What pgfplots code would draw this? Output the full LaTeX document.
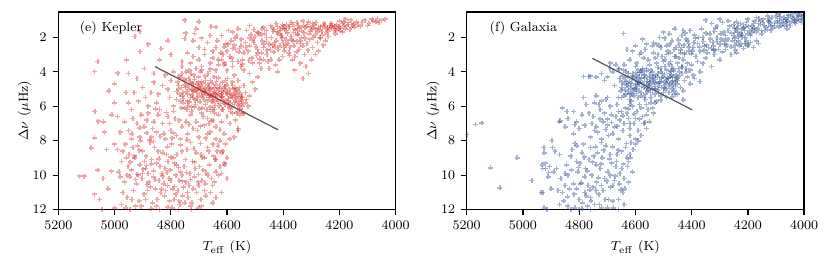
\documentclass[border=0pt]{standalone}
\usepackage{pgfplots}
\pgfplotsset{compat=1.18}
\definecolor{kred}{RGB}{214,45,40}
\definecolor{gblue}{RGB}{40,75,145}
\pgfplotsset{
  panel/.style={
    scale only axis, width=204.9pt, height=120pt,
    anchor=south west,
    xmin=4000, xmax=5200, ymin=0.53, ymax=12,
    x dir=reverse, y dir=reverse,
    xtick={4000,4200,4400,4600,4800,5000,5200},
    ytick={2,4,6,8,10,12},
    xticklabel style={/pgf/number format/1000 sep={}},
    tick align=outside, xtick pos=bottom, ytick pos=left,
    major tick length=3.5pt,
    tick style={black, line width=0.8pt},
    axis line style={line width=0.9pt},
    ticklabel style={font=\footnotesize},
    label style={font=\footnotesize},
    xlabel={$T_{\rm eff}$ (K)},
    ylabel={$\Delta\nu$ ($\mu$Hz)},
    xlabel style={yshift=0pt},
    ylabel style={yshift=-6pt},
  },
  pts/.style={only marks, mark=+, mark size=1.5pt, mark options={line width=0.95pt}, opacity=0.42},
}
\begin{document}
\begin{tikzpicture}
\useasboundingbox (0,0) rectangle (504pt,160.9pt);
\begin{axis}[panel, at={(35.4pt,33.6pt)}]
\addplot[pts, kred] table[row sep=\\]{
x y\\
4440 1.45\\ 4425 1.2\\ 4410 1.6\\ 4398 1.35\\ 4385 1.75\\ 4372 1.15\\ 4360 1.5\\ 4348 1.3\\ 4335 1.62\\ 4322 1.42\\ 4310 1.1\\ 4300 1.55\\ 4290 1.28\\ 4280 1.7\\ 4268 1.38\\ 4255 1.18\\ 4245 1.5\\ 4233 1.32\\ 4222 1.6\\ 4210 1.25\\ 4198 1.45\\ 4186 1.12\\ 4175 1.35\\ 4163 1.55\\ 4150 1.22\\ 4420 1.38\\ 4395 1.52\\ 4366 1.25\\ 4342 1.48\\ 4318 1.36\\ 4296 1.2\\ 4274 1.45\\ 4251 1.3\\ 4229 1.4\\ 4206 1.5\\ 4184 1.3\\ 4405 1.9\\ 4350 1.85\\ 4260 1.85\\ 4230 1.2\\ 4330 1.05\\ 4380 1.42\\ 4302 1.4\\ 4240 1.65\\ 4215 1.35\\
4445 1.3\\ 4432 1.55\\ 4418 1.8\\ 4403 1.25\\ 4390 1.6\\ 4377 1.38\\ 4363 1.72\\ 4352 1.15\\ 4339 1.4\\ 4326 1.75\\ 4314 1.25\\ 4303 1.62\\ 4292 1.45\\ 4283 1.15\\ 4271 1.58\\ 4259 1.35\\ 4248 1.72\\ 4236 1.5\\ 4226 1.3\\ 4212 1.6\\ 4201 1.38\\ 4190 1.2\\ 4178 1.5\\ 4168 1.25\\ 4158 1.42\\ 4436 1.65\\ 4412 1.48\\ 4388 1.28\\ 4356 1.6\\ 4328 1.3\\ 4306 1.8\\ 4286 1.52\\ 4263 1.65\\ 4242 1.42\\ 4218 1.45\\ 4196 1.62\\ 4172 1.15\\ 4152 1.32\\ 4460 1.6\\ 4475 1.5\\ 4490 1.7\\ 4505 1.55\\ 4480 1.85\\
4140 1.1\\ 4125 1.35\\ 4110 1.0\\ 4095 1.2\\ 4080 1.05\\ 4065 0.9\\ 4050 1.0\\ 4038 0.95\\ 4120 1.15\\ 4100 1.3\\ 4085 0.95\\ 4070 1.1\\ 4135 1.25\\ 4160 1.0\\ 4180 0.95\\ 4200 1.05\\ 4145 1.4\\ 4060 1.15\\ 4215 1.8\\ 4190 1.7\\ 4270 2.0\\ 4240 1.95\\
4620 1.9\\ 4605 2.4\\ 4590 3.1\\ 4580 1.7\\ 4570 2.7\\ 4560 3.4\\ 4550 2.1\\ 4540 2.9\\ 4530 1.6\\ 4520 2.5\\ 4512 3.2\\ 4500 1.95\\ 4492 2.7\\ 4485 3.5\\ 4475 2.2\\ 4466 1.8\\ 4458 3.0\\ 4450 2.4\\ 4442 2.0\\ 4433 2.85\\ 4425 2.2\\ 4415 3.3\\ 4408 1.9\\ 4398 2.6\\ 4390 2.15\\ 4380 2.9\\ 4372 1.95\\ 4362 2.5\\ 4352 2.25\\ 4343 2.7\\ 4335 2.0\\ 4325 3.0\\ 4316 2.35\\ 4306 2.1\\ 4296 2.6\\ 4287 1.9\\ 4278 2.3\\ 4268 2.05\\ 4258 2.45\\ 4250 2.2\\ 4600 2.8\\ 4585 2.2\\ 4565 1.9\\ 4545 3.3\\ 4525 2.8\\ 4505 2.3\\ 4488 1.75\\ 4470 2.6\\ 4455 3.4\\ 4437 2.45\\ 4420 1.7\\ 4402 3.1\\ 4384 2.35\\ 4367 3.3\\ 4348 1.8\\ 4330 2.5\\ 4312 2.75\\ 4294 2.0\\ 4275 2.8\\ 4640 2.6\\ 4632 3.3\\ 4615 3.0\\ 4595 1.6\\ 4575 2.45\\ 4555 2.65\\ 4535 2.3\\ 4515 1.85\\ 4495 3.05\\ 4478 2.9\\ 4460 2.0\\ 4445 2.7\\ 4428 3.6\\ 4412 2.5\\ 4395 2.8\\ 4376 2.6\\ 4358 3.1\\ 4340 3.5\\ 4320 3.7\\ 4300 3.3\\ 4310 4.1\\ 4330 4.4\\ 4360 3.9\\ 4285 3.0\\ 4350 1.55\\ 4400 1.45\\ 4470 1.4\\ 4520 1.3\\ 4560 1.5\\ 4640 1.4\\ 4700 1.1\\ 4710 1.5\\ 4690 2.05\\ 4670 2.3\\ 4660 1.9\\ 4650 2.8\\ 4680 2.7\\ 4720 2.2\\ 4740 2.9\\ 4760 3.4\\
4635 2.2\\ 4622 2.9\\ 4608 3.5\\ 4596 2.4\\ 4583 3.2\\ 4571 2.05\\ 4558 2.85\\ 4546 3.55\\ 4533 2.6\\ 4521 3.35\\ 4508 2.15\\ 4497 2.55\\ 4483 3.25\\ 4469 2.4\\ 4457 2.75\\ 4444 3.3\\ 4431 2.3\\ 4418 2.7\\ 4404 2.05\\ 4391 2.45\\ 4377 3.05\\ 4365 2.2\\ 4352 2.85\\ 4338 2.35\\ 4323 2.05\\ 4610 2.55\\ 4580 2.65\\ 4550 2.5\\ 4520 2.05\\ 4490 2.9\\ 4460 2.25\\ 4430 2.55\\ 4400 2.3\\ 4370 2.15\\ 4340 2.2\\ 4680 3.0\\ 4660 3.5\\ 4700 2.6\\ 4690 3.9\\ 4720 3.1\\ 4640 3.9\\ 4610 3.6\\ 4580 3.7\\ 4540 3.9\\ 4510 3.5\\ 4470 3.3\\ 4450 3.8\\ 4420 4.0\\
4928 1.96\\ 4910 1.67\\ 4910 2.83\\ 4834 2.64\\ 5059 3.4\\ 5071 3.99\\ 4958 3.3\\ 4988 4.08\\ 4893 3.8\\ 4750 2.06\\ 4746 1.75\\ 4715 1.77\\ 4657 1.38\\ 4750 1.0\\ 4880 2.4\\ 4810 2.2\\ 4950 4.1\\ 5000 4.7\\ 4920 4.4\\ 4860 4.1\\ 4840 3.3\\ 4800 3.0\\
4775 4.6\\ 4768 5.3\\ 4760 4.1\\ 4754 5.8\\ 4748 4.9\\ 4742 6.2\\ 4736 4.4\\ 4730 5.5\\ 4724 5.0\\ 4718 4.2\\ 4712 5.9\\ 4706 4.7\\ 4700 5.4\\ 4694 4.0\\ 4688 6.1\\ 4682 5.1\\ 4676 4.5\\ 4670 5.7\\ 4664 4.85\\ 4658 6.3\\ 4652 5.25\\ 4646 4.3\\ 4640 5.6\\ 4634 4.95\\ 4628 6.0\\ 4622 5.35\\ 4616 4.6\\ 4610 5.8\\ 4604 5.1\\ 4598 4.4\\ 4592 6.1\\ 4586 5.45\\ 4580 4.8\\ 4574 5.9\\ 4568 5.2\\ 4562 6.3\\ 4556 4.9\\ 4550 5.6\\ 4545 6.0\\
4772 5.0\\ 4765 4.35\\ 4757 5.55\\ 4750 4.75\\ 4744 5.15\\ 4738 5.95\\ 4731 4.55\\ 4725 5.35\\ 4719 4.85\\ 4713 5.65\\ 4707 5.2\\ 4701 4.3\\ 4695 5.0\\ 4689 5.45\\ 4683 4.65\\ 4677 5.9\\ 4671 5.05\\ 4665 5.5\\ 4659 4.5\\ 4653 5.75\\ 4647 5.15\\ 4641 4.75\\ 4635 5.4\\ 4629 5.0\\ 4623 5.85\\ 4617 5.45\\ 4611 4.95\\ 4605 5.65\\ 4599 5.3\\ 4593 5.0\\ 4587 5.8\\ 4581 5.5\\ 4575 5.25\\ 4569 5.65\\ 4563 5.4\\ 4557 5.85\\ 4551 5.3\\ 4547 5.7\\
4770 4.25\\ 4762 4.9\\ 4756 5.2\\ 4746 4.5\\ 4740 5.7\\ 4733 5.05\\ 4727 4.65\\ 4721 5.5\\ 4715 4.45\\ 4709 5.05\\ 4703 4.9\\ 4697 5.75\\ 4691 4.55\\ 4685 5.3\\ 4679 4.95\\ 4673 5.35\\ 4667 4.1\\ 4661 5.35\\ 4655 4.95\\ 4649 5.45\\ 4643 5.95\\ 4637 4.55\\ 4631 5.25\\ 4625 4.8\\ 4619 5.6\\ 4613 5.2\\ 4607 5.9\\ 4601 4.75\\ 4595 5.55\\ 4589 5.2\\ 4583 6.05\\ 4577 5.0\\ 4571 5.45\\ 4565 5.0\\ 4559 5.55\\ 4553 6.15\\ 4548 5.45\\
4778 5.15\\ 4766 5.7\\ 4752 4.45\\ 4739 4.85\\ 4726 6.05\\ 4714 5.1\\ 4702 4.6\\ 4690 5.2\\ 4678 4.25\\ 4666 5.2\\ 4654 4.65\\ 4642 5.3\\ 4630 4.35\\ 4618 5.1\\ 4606 4.5\\ 4594 5.7\\ 4582 4.6\\ 4570 5.75\\ 4558 5.15\\ 4546 5.5\\ 4773 4.8\\ 4759 5.4\\ 4745 4.0\\ 4733 5.75\\ 4720 4.7\\ 4707 5.55\\ 4695 4.75\\ 4681 5.6\\ 4668 4.75\\ 4656 5.4\\ 4644 4.9\\ 4632 5.7\\ 4620 5.25\\ 4608 4.85\\ 4596 5.9\\ 4584 5.35\\ 4572 4.95\\ 4561 5.95\\ 4549 5.9\\ 4763 6.1\\ 4728 4.1\\ 4699 6.15\\ 4672 6.2\\ 4645 6.2\\ 4617 6.2\\ 4588 6.3\\ 4566 6.4\\ 4555 6.2\\ 4535 5.8\\ 4700 4.95\\ 4680 5.15\\ 4660 5.0\\ 4640 5.2\\ 4620 5.45\\ 4600 5.25\\ 4720 5.15\\ 4740 5.3\\ 4690 4.85\\ 4650 5.65\\
4780 5.6\\ 4735 3.9\\ 4710 3.8\\ 4690 3.7\\ 4660 3.85\\ 4630 3.6\\ 4600 3.9\\ 4575 4.2\\ 4560 4.5\\ 4540 4.8\\ 4535 5.2\\ 4530 5.6\\ 4525 6.0\\ 4540 6.4\\ 4520 5.4\\ 4510 4.6\\ 4500 5.0\\ 4490 4.3\\ 4480 3.8\\ 4520 4.1\\ 4550 3.7\\ 4580 3.4\\ 4620 3.3\\ 4650 3.2\\ 4700 3.3\\ 4730 3.5\\ 4760 3.7\\ 4790 4.0\\ 4800 4.5\\ 4810 5.0\\ 4805 5.5\\ 4790 6.0\\ 4820 4.2\\ 4830 4.8\\ 4845 5.3\\ 4850 5.8\\ 4860 4.6\\ 4870 5.2\\ 4880 6.0\\ 4890 5.5\\ 4900 4.9\\ 4915 5.7\\ 4930 5.2\\ 4950 5.8\\ 4960 5.2\\ 4940 6.2\\
4600 6.6\\ 4590 7.0\\ 4580 6.4\\ 4570 6.8\\ 4560 7.3\\ 4575 7.8\\ 4555 6.5\\ 4620 6.9\\ 4640 7.2\\ 4610 7.6\\ 4630 6.5\\ 4650 6.8\\ 4545 6.4\\ 4590 7.9\\ 4605 8.2\\ 4625 8.0\\ 4615 8.6\\ 4600 9.0\\ 4610 9.3\\ 4640 9.1\\ 4560 7.4\\
4895 7.2\\ 4880 6.4\\ 4870 7.8\\ 4860 6.9\\ 4850 7.5\\ 4840 6.2\\ 4830 7.0\\ 4820 7.9\\ 4810 6.6\\ 4800 7.4\\ 4790 6.3\\ 4780 7.7\\ 4770 6.8\\ 4760 7.2\\ 4750 6.1\\ 4740 7.6\\ 4730 6.5\\ 4720 7.3\\ 4710 6.9\\ 4700 7.8\\ 4690 6.4\\ 4680 7.1\\ 4670 6.7\\ 4660 7.5\\ 4650 6.2\\ 4640 7.9\\ 4885 6.8\\ 4865 7.3\\ 4845 6.5\\ 4825 7.6\\ 4805 7.0\\ 4785 6.7\\ 4765 7.9\\ 4745 6.9\\ 4725 6.3\\ 4705 7.4\\ 4685 6.6\\ 4665 7.0\\ 4645 6.4\\ 4905 6.5\\ 4920 7.0\\ 4935 6.7\\ 4950 7.4\\ 4965 6.9\\ 4980 7.5\\ 4990 6.6\\ 4910 7.8\\ 4940 7.9\\ 4875 7.95\\ 4855 6.15\\ 4815 6.35\\ 4795 7.85\\ 4735 7.05\\ 4715 6.05\\ 4695 7.15\\ 4675 7.85\\ 4655 6.85\\ 4625 7.35\\ 4615 6.2\\ 4660 6.05\\
4990 8.5\\ 4975 9.2\\ 4965 10.4\\ 4955 11.3\\ 4948 8.8\\ 4940 9.7\\ 4932 10.9\\ 4925 11.8\\ 4918 8.3\\ 4910 9.4\\ 4902 10.2\\ 4895 11.1\\ 4888 8.9\\ 4880 9.9\\ 4872 10.7\\ 4865 11.6\\ 4858 8.4\\ 4850 9.3\\ 4842 10.3\\ 4835 11.0\\ 4828 8.7\\ 4820 9.6\\ 4812 10.6\\ 4805 11.5\\ 4798 8.2\\ 4790 9.0\\ 4782 10.0\\ 4775 10.9\\ 4768 11.7\\ 4760 8.6\\ 4752 9.5\\ 4745 10.4\\ 4738 11.3\\ 4730 8.1\\ 4722 9.2\\ 4715 10.1\\ 4708 11.0\\ 4700 11.9\\ 4692 8.8\\ 4685 9.7\\ 4678 10.5\\ 4670 8.4\\ 4662 9.4\\ 4655 10.2\\ 4648 8.9\\ 4640 9.8\\ 4632 8.3\\ 4625 9.5\\
4985 9.8\\ 4970 11.0\\ 4958 9.0\\ 4945 10.1\\ 4935 8.4\\ 4922 10.5\\ 4912 11.5\\ 4900 8.6\\ 4890 9.6\\ 4878 10.4\\ 4868 9.1\\ 4855 10.8\\ 4845 8.6\\ 4832 9.9\\ 4822 11.2\\ 4810 9.2\\ 4800 10.3\\ 4788 11.4\\ 4778 8.8\\ 4765 9.8\\ 4755 10.7\\ 4742 8.5\\ 4732 9.9\\ 4720 10.8\\ 4710 8.7\\ 4698 9.5\\ 4688 10.3\\ 4675 11.2\\ 4665 8.6\\ 4652 10.6\\ 4642 9.1\\ 4630 10.0\\ 4618 8.7\\ 4608 9.4\\
4962 8.2\\ 4952 9.5\\ 4938 11.4\\ 4928 9.0\\ 4915 10.0\\ 4905 11.8\\ 4893 9.2\\ 4883 10.9\\ 4873 8.1\\ 4862 10.1\\ 4848 11.4\\ 4838 9.5\\ 4825 10.5\\ 4815 8.8\\ 4802 9.7\\ 4793 10.8\\ 4780 9.4\\ 4770 10.3\\ 4758 11.2\\ 4748 9.1\\ 4735 10.6\\ 4725 11.6\\ 4713 9.6\\ 4703 10.4\\ 4693 11.4\\ 4680 9.0\\ 4668 10.0\\ 4658 11.0\\ 4645 10.4\\ 4635 8.6\\ 4620 9.9\\
4944 9.25\\ 4926 10.25\\ 4912 8.55\\ 4898 9.65\\ 4884 10.55\\ 4870 9.35\\ 4856 10.25\\ 4842 9.05\\ 4828 10.05\\ 4814 9.85\\ 4800 8.95\\ 4786 10.65\\ 4772 9.55\\ 4758 10.35\\ 4744 9.85\\ 4730 10.25\\ 4716 9.25\\ 4702 9.95\\ 4688 8.95\\ 4674 9.85\\ 4938 7.6\\ 4910 7.25\\ 4885 7.55\\ 4862 8.05\\ 4838 7.75\\ 4812 8.35\\ 4790 7.55\\ 4766 8.25\\ 4742 7.95\\ 4718 8.45\\ 4694 8.15\\ 4670 7.6\\ 4650 8.2\\ 4862 9.75\\ 4833 10.8\\ 4806 10.2\\ 4782 11.1\\ 4760 10.0\\ 4740 11.0\\ 4890 11.4\\ 4850 11.8\\ 4810 11.85\\ 4770 11.5\\ 4730 11.8\\ 4700 10.6\\ 4680 10.9\\ 4920 9.95\\ 4955 10.0\\ 4970 8.6\\
4980 10.1\\ 4960 11.9\\ 4945 12.0\\ 4908 8.0\\ 4887 9.45\\ 4870 11.95\\ 4840 12.0\\ 4818 10.9\\ 4795 11.9\\ 4786 9.3\\ 4772 12.0\\ 4750 11.6\\ 4727 12.0\\ 4690 11.8\\ 4640 11.3\\ 4650 11.6\\ 4600 10.2\\ 4620 11.0\\ 4930 8.9\\ 4900 9.9\\
5058 6.87\\ 5071 7.84\\ 5083 8.42\\ 5124 10.06\\ 5108 10.06\\ 5059 9.7\\ 5071 11.1\\ 5053 11.4\\ 5000 8.2\\ 5029 8.5\\ 5011 9.77\\ 5041 10.2\\ 5023 10.8\\ 5040 6.9\\ 5035 7.5\\ 5070 6.3\\ 5010 6.5\\ 5000 5.8\\ 5020 5.1\\ 5045 12.0\\ 5000 11.9\\ 4975 11.7\\
};
\addplot[black!65, line width=0.75pt] coordinates {(4856,3.70) (4418,7.37)};
\node[anchor=west, font=\footnotesize] at (rel axis cs:0.0465,0.919) {(e) Kepler};
\end{axis}
\begin{axis}[panel, at={(283.4pt,33.6pt)}]
\addplot[pts, gblue] table[row sep=\\]{
x y\\
4245 1.6\\ 4235 1.3\\ 4225 1.75\\ 4215 1.45\\ 4205 1.15\\ 4195 1.6\\ 4185 1.35\\ 4175 1.05\\ 4165 1.5\\ 4155 1.25\\ 4145 0.95\\ 4135 1.4\\ 4125 1.15\\ 4115 0.85\\ 4105 1.3\\ 4095 1.05\\ 4085 0.8\\ 4075 1.2\\ 4065 0.95\\ 4055 0.7\\ 4045 1.1\\ 4035 0.85\\ 4025 0.65\\ 4015 1.0\\ 4008 0.8\\ 4240 1.1\\ 4220 1.5\\ 4200 1.8\\ 4180 1.2\\ 4160 0.9\\ 4140 1.6\\ 4120 1.35\\ 4100 0.75\\ 4080 1.0\\ 4060 1.25\\ 4040 0.9\\ 4020 0.75\\ 4010 1.15\\ 4230 1.9\\ 4210 2.0\\ 4190 1.9\\ 4170 1.7\\ 4150 1.8\\ 4130 1.55\\ 4110 1.45\\ 4090 1.4\\ 4070 1.35\\ 4050 1.3\\ 4030 1.2\\ 4250 1.25\\ 4270 1.05\\ 4290 1.15\\ 4310 1.35\\ 4330 1.2\\ 4350 1.0\\ 4300 0.95\\ 4060 1.5\\ 4090 0.65\\ 4040 0.6\\ 4130 0.75\\ 4170 0.85\\ 4200 0.95\\ 4215 1.25\\ 4185 1.55\\ 4155 1.05\\ 4125 0.95\\ 4095 1.2\\ 4065 1.1\\ 4035 1.0\\
4248 1.45\\ 4237 1.7\\ 4226 1.2\\ 4212 1.6\\ 4198 1.35\\ 4188 1.75\\ 4176 1.45\\ 4162 1.2\\ 4152 1.6\\ 4142 1.3\\ 4128 1.05\\ 4118 1.6\\ 4106 1.15\\ 4094 0.9\\ 4082 1.3\\ 4072 0.85\\ 4058 1.05\\ 4046 0.8\\ 4034 1.15\\ 4022 0.9\\ 4012 0.7\\ 4238 1.5\\ 4208 1.4\\ 4178 1.6\\ 4148 1.15\\ 4118 1.2\\ 4088 1.15\\ 4058 0.85\\ 4028 1.05\\ 4005 0.95\\
4323 2.73\\ 4211 2.35\\ 4163 2.35\\ 4371 4.57\\ 4430 5.63\\
4445 2.4\\ 4435 1.9\\ 4425 2.9\\ 4415 2.2\\ 4405 1.6\\ 4395 2.6\\ 4385 3.1\\ 4375 2.0\\ 4365 1.5\\ 4355 2.5\\ 4345 2.9\\ 4335 1.8\\ 4325 2.3\\ 4315 1.45\\ 4305 2.7\\ 4295 2.1\\ 4285 1.7\\ 4275 2.45\\ 4265 1.35\\ 4255 2.2\\ 4245 2.75\\ 4235 1.95\\ 4225 2.4\\ 4215 2.65\\ 4205 2.2\\ 4440 2.75\\ 4420 2.1\\ 4400 2.95\\ 4380 2.35\\ 4360 2.0\\ 4340 2.6\\ 4320 1.65\\ 4300 2.4\\ 4280 1.9\\ 4260 2.55\\ 4240 2.3\\ 4220 2.0\\ 4430 1.6\\ 4410 2.55\\ 4390 1.85\\ 4370 2.8\\ 4350 1.75\\ 4330 2.65\\ 4310 2.0\\ 4290 2.85\\ 4270 1.6\\ 4250 1.9\\ 4230 2.5\\ 4460 1.5\\ 4480 1.8\\ 4500 1.7\\ 4470 2.2\\ 4490 2.5\\ 4455 3.1\\ 4475 2.9\\ 4350 3.2\\ 4320 3.0\\ 4300 3.3\\ 4280 2.7\\ 4260 3.0\\ 4240 2.9\\ 4200 2.5\\ 4190 2.3\\ 4180 2.6\\ 4170 2.2\\ 4360 3.5\\ 4330 3.7\\ 4380 3.4\\ 4200 2.4\\ 4400 3.6\\ 4370 4.0\\ 4390 4.4\\ 4643 1.77\\
4448 2.15\\ 4436 2.6\\ 4423 1.75\\ 4411 2.35\\ 4398 2.8\\ 4386 2.05\\ 4372 2.55\\ 4359 2.25\\ 4347 2.45\\ 4334 2.1\\ 4322 2.5\\ 4309 2.25\\ 4296 1.8\\ 4284 2.2\\ 4271 2.1\\ 4258 1.75\\ 4246 2.05\\ 4233 2.2\\ 4221 1.85\\ 4428 2.45\\ 4392 2.3\\ 4356 2.75\\ 4318 2.75\\ 4282 2.4\\ 4245 2.45\\ 4462 2.7\\ 4478 2.4\\ 4495 2.05\\ 4510 2.6\\ 4525 2.4\\ 4495 3.3\\
4595 3.5\\ 4585 3.0\\ 4575 3.8\\ 4565 2.7\\ 4555 3.3\\ 4545 3.9\\ 4535 2.9\\ 4525 3.5\\ 4515 2.5\\ 4505 3.1\\ 4495 3.7\\ 4485 2.8\\ 4475 3.4\\ 4465 3.95\\ 4455 2.6\\ 4445 3.2\\ 4435 3.75\\ 4425 3.0\\ 4415 3.5\\ 4405 3.9\\ 4590 3.9\\ 4570 3.2\\ 4550 3.6\\ 4530 3.2\\ 4510 3.8\\ 4490 3.0\\ 4470 3.7\\ 4450 3.5\\ 4430 3.3\\ 4410 2.8\\ 4600 3.7\\ 4580 2.9\\ 4560 3.95\\ 4540 2.5\\ 4520 3.0\\ 4500 3.4\\ 4480 3.55\\ 4460 3.1\\ 4440 2.9\\ 4420 3.8\\ 4620 3.3\\ 4640 3.6\\ 4610 2.8\\ 4660 3.8\\ 4630 2.7\\ 4535 2.3\\ 4515 2.0\\ 4560 2.4\\ 4575 2.1\\ 4600 2.5\\
4655 4.4\\ 4648 4.9\\ 4642 3.9\\ 4636 5.3\\ 4630 4.6\\ 4624 4.1\\ 4618 5.0\\ 4612 4.4\\ 4606 5.4\\ 4600 4.7\\ 4594 4.2\\ 4588 5.1\\ 4582 4.5\\ 4576 3.9\\ 4570 4.9\\ 4564 5.3\\ 4558 4.3\\ 4552 4.8\\ 4546 5.2\\ 4540 4.0\\ 4534 4.6\\ 4528 5.0\\ 4522 4.3\\ 4516 4.8\\ 4510 5.4\\ 4504 4.1\\ 4498 4.6\\ 4492 5.0\\ 4486 4.35\\ 4480 4.85\\ 4474 3.95\\ 4468 4.5\\ 4462 5.1\\ 4456 4.2\\ 4450 4.7\\ 4444 4.0\\
4652 5.1\\ 4645 4.25\\ 4639 4.7\\ 4633 4.0\\ 4627 5.15\\ 4621 4.55\\ 4615 4.8\\ 4609 4.1\\ 4603 4.95\\ 4597 4.45\\ 4591 4.75\\ 4585 4.05\\ 4579 5.2\\ 4573 4.65\\ 4567 4.15\\ 4561 4.75\\ 4555 5.05\\ 4549 4.45\\ 4543 4.85\\ 4537 4.25\\ 4531 5.3\\ 4525 4.65\\ 4519 4.1\\ 4513 4.55\\ 4507 4.9\\ 4501 4.3\\ 4495 4.8\\ 4489 3.9\\ 4483 4.4\\ 4477 4.7\\ 4471 4.2\\ 4465 3.85\\ 4459 4.6\\ 4453 4.35\\ 4447 3.8\\
4648 4.6\\ 4638 5.05\\ 4628 4.3\\ 4618 4.65\\ 4608 5.1\\ 4598 4.9\\ 4588 4.35\\ 4578 4.85\\ 4568 4.4\\ 4558 5.1\\ 4548 4.7\\ 4538 4.5\\ 4528 4.2\\ 4518 4.65\\ 4508 4.35\\ 4498 4.95\\ 4488 4.5\\ 4478 4.1\\ 4468 4.3\\ 4458 4.85\\ 4630 4.8\\ 4610 4.25\\ 4590 4.6\\ 4570 4.2\\ 4550 4.6\\ 4530 4.85\\ 4510 4.0\\ 4490 4.45\\ 4470 4.6\\ 4450 4.5\\ 4640 5.4\\ 4620 5.3\\ 4600 5.0\\ 4580 4.0\\ 4560 4.95\\ 4540 4.35\\ 4520 5.05\\ 4500 5.2\\ 4480 5.2\\ 4460 5.3\\ 4580 5.4\\ 4545 5.5\\ 4560 3.8\\ 4520 3.75\\ 4600 4.05\\
4658 3.85\\ 4650 5.5\\ 4637 4.45\\ 4625 4.85\\ 4613 5.3\\ 4604 4.3\\ 4596 5.25\\ 4587 4.65\\ 4578 4.35\\ 4568 5.5\\ 4559 4.55\\ 4548 4.15\\ 4539 5.0\\ 4529 4.45\\ 4518 5.25\\ 4508 4.55\\ 4497 4.15\\ 4487 4.65\\ 4476 4.3\\ 4466 4.8\\ 4455 4.45\\ 4445 4.25\\ 4435 4.1\\ 4425 4.5\\ 4415 4.3\\ 4405 4.7\\ 4435 3.7\\ 4420 4.0\\ 4395 4.2\\ 4440 4.9\\ 4430 5.1\\ 4450 5.3\\ 4470 5.45\\ 4490 5.5\\ 4510 5.65\\ 4530 5.8\\ 4470 5.0\\ 4680 4.0\\ 4700 4.3\\ 4675 4.8\\ 4690 3.8\\ 4710 4.5\\ 4720 4.1\\ 4740 4.3\\ 4760 4.25\\ 4670 3.6\\ 4690 3.5\\ 4785 4.28\\ 4765 4.28\\
4765 6.4\\ 4755 7.0\\ 4745 5.8\\ 4735 7.5\\ 4725 6.2\\ 4715 6.9\\ 4705 5.6\\ 4695 7.7\\ 4685 6.5\\ 4675 7.2\\ 4665 5.9\\ 4655 6.8\\ 4645 7.4\\ 4635 6.1\\ 4625 6.7\\ 4615 5.7\\ 4605 7.0\\ 4595 6.3\\ 4585 5.9\\ 4575 6.6\\ 4565 5.6\\ 4555 6.2\\ 4545 5.8\\ 4535 6.4\\ 4525 5.7\\ 4760 7.8\\ 4750 6.6\\ 4740 7.2\\ 4730 5.9\\ 4720 7.9\\ 4710 6.4\\ 4700 7.1\\ 4690 6.0\\ 4680 7.6\\ 4670 6.6\\ 4660 7.9\\ 4650 6.3\\ 4640 7.0\\ 4630 6.4\\ 4620 7.3\\ 4610 6.0\\ 4600 6.7\\ 4590 7.4\\ 4580 6.1\\ 4570 7.0\\ 4560 6.5\\ 4550 6.9\\ 4540 6.1\\ 4780 7.1\\ 4790 6.5\\ 4800 7.3\\ 4810 6.9\\ 4820 7.6\\ 4840 6.7\\ 4870 6.9\\ 4860 6.1\\ 4775 5.9\\ 4785 5.5\\ 4700 5.5\\ 4660 5.5\\ 4620 5.6\\ 4590 5.5\\ 4560 7.3\\ 4580 7.7\\ 4600 7.9\\ 4620 7.7\\ 4720 5.7\\ 4740 5.4\\ 4620 5.9\\ 4560 5.9\\
4745 7.4\\ 4725 6.75\\ 4705 7.35\\ 4685 6.95\\ 4665 7.15\\ 4645 6.55\\ 4625 6.15\\ 4605 6.45\\ 4585 6.75\\ 4565 6.95\\ 4700 6.75\\ 4660 6.3\\ 4620 7.0\\
4865 10.2\\ 4855 11.5\\ 4845 9.4\\ 4835 10.8\\ 4825 8.5\\ 4815 11.9\\ 4805 9.8\\ 4795 10.5\\ 4785 8.2\\ 4775 11.2\\ 4765 9.1\\ 4755 10.0\\ 4745 11.7\\ 4735 8.7\\ 4725 9.6\\ 4715 10.9\\ 4705 8.3\\ 4695 11.4\\ 4685 9.3\\ 4675 10.3\\ 4665 8.8\\ 4655 9.9\\ 4645 11.0\\ 4635 8.4\\ 4625 9.2\\ 4615 8.1\\
4860 11.0\\ 4850 9.9\\ 4840 11.8\\ 4830 8.9\\ 4820 10.5\\ 4810 9.2\\ 4800 11.4\\ 4790 8.7\\ 4780 10.1\\ 4770 11.8\\ 4760 8.4\\ 4750 10.7\\ 4740 9.4\\ 4730 11.1\\ 4720 8.1\\ 4710 10.2\\ 4700 11.9\\ 4690 8.8\\ 4680 10.6\\ 4670 9.5\\ 4660 11.4\\ 4650 8.6\\ 4640 10.2\\ 4630 9.0\\ 4620 8.8\\ 4610 9.8\\
4815 8.15\\ 4802 9.55\\ 4792 10.45\\ 4782 8.95\\ 4772 9.75\\ 4762 10.85\\ 4752 9.25\\ 4742 8.35\\ 4732 10.15\\ 4722 9.35\\ 4712 8.55\\ 4702 10.35\\ 4692 9.05\\ 4682 8.35\\ 4672 10.05\\ 4662 8.55\\ 4652 10.85\\ 4642 9.35\\ 4632 8.15\\ 4625 10.4\\ 4760 11.3\\ 4720 10.6\\ 4690 10.0\\ 4740 10.9\\ 4780 11.0\\ 4810 10.8\\ 4840 10.0\\
4850 10.6\\ 4842 11.25\\ 4828 9.7\\ 4818 11.1\\ 4808 8.3\\ 4798 9.3\\ 4788 11.6\\ 4778 9.6\\ 4768 10.6\\ 4758 11.5\\ 4748 8.9\\ 4738 10.4\\ 4728 11.7\\ 4718 9.0\\ 4708 11.4\\ 4698 9.8\\ 4688 10.7\\ 4678 11.9\\ 4668 9.2\\ 4658 10.5\\ 4648 9.6\\ 4638 10.8\\ 4628 9.5\\ 4618 9.0\\ 4608 8.5\\ 4600 8.2\\ 4590 8.0\\ 4640 11.7\\ 4660 12.0\\ 4680 11.5\\ 4720 11.9\\ 4760 12.0\\ 4800 12.0\\ 4790 11.95\\ 4830 12.0\\ 4870 11.7\\ 4875 10.9\\ 4880 9.6\\ 4870 8.8\\ 4890 9.8\\ 4900 10.8\\ 4895 8.4\\ 4905 9.5\\ 4910 10.1\\ 4920 9.3\\ 4925 8.7\\ 4930 9.6\\ 4935 11.0\\ 4915 12.0\\ 4925 11.9\\
5169 7.07\\ 5146 6.97\\ 5199 7.65\\ 5021 9.0\\ 5116 9.58\\ 5082 10.74\\ 4968 10.3\\ 4929 11.0\\ 4932 9.4\\ 4926 8.4\\ 4897 7.98\\ 4886 8.6\\ 4868 6.85\\ 4844 6.3\\ 4820 6.3\\ 4815 7.07\\ 4850 7.2\\ 4909 9.85\\ 4920 9.6\\
};
\addplot[black!65, line width=0.75pt] coordinates {(4753,3.22) (4398,6.21)};
\node[anchor=west, font=\footnotesize] at (rel axis cs:0.051,0.919) {(f) Galaxia};
\end{axis}
\end{tikzpicture}
\end{document}
